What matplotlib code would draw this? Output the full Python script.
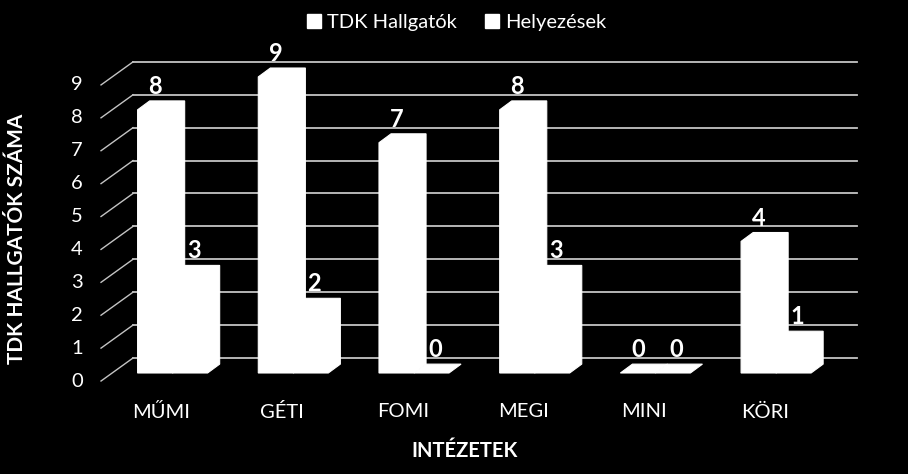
import matplotlib.pyplot as plt
from matplotlib.lines import Line2D

categories = ['MŰMI', 'GÉTI', 'FOMI', 'MEGI', 'MINI', 'KÖRI']
tdk_hallgatok = [8, 9, 7, 8, 0, 4]
helyezesek = [3, 2, 0, 3, 0, 1]
y_ticks = list(range(0, 10))

plt.rcParams['font.family'] = ['Lato', 'DejaVu Sans']

fig = plt.figure(figsize=(9.08, 4.74), dpi=100)
fig.patch.set_facecolor('black')
ax = fig.add_axes([0, 0, 1, 1])
ax.set_facecolor('black')
ax.set_xlim(-1.102, 6.421)
ax.set_ylim(-3.526, 10.881)
ax.axis('off')

# 3D-ish offsets (data units)
floor_dx, floor_dy = -0.265, -0.70     # back wall -> front floor edge
front_dx, front_dy = -0.172, -0.456    # back wall -> bar front plane
depth_dx, depth_dy = 0.10, 0.27        # bar front -> bar back
bar_w = 0.29
grid_col = '#c4c4c4'

# back wall gridlines + slanted floor ticks
for v in y_ticks:
    ax.plot([0, len(categories)], [v, v], color=grid_col, lw=1.3, zorder=1)
    ax.plot([0, floor_dx], [v, v + floor_dy], color=grid_col, lw=1.0, zorder=1)
    ax.text(floor_dx - 0.15, v + floor_dy, str(v), color='white', fontsize=14.5,
            ha='right', va='center')


def draw_bar(xl, h, shift):
    xr = xl + bar_w
    x0, y0 = xl + front_dx, front_dy
    xs = [x0, x0, x0 + depth_dx, xr + front_dx + depth_dx, xr + front_dx + depth_dx, xr + front_dx]
    ys = [y0, h + y0, h + y0 + depth_dy, h + y0 + depth_dy, y0 + depth_dy, y0]
    ax.fill(xs, ys, facecolor='white', edgecolor='white', lw=0.8, zorder=3)
    ax.text((xl + xr) / 2 + front_dx + shift, h + y0 + depth_dy + 0.09, str(h),
            color='white', fontsize=17, fontweight='bold', ha='center', va='bottom', zorder=4)


for i, cat in enumerate(categories):
    left = i + 0.5 - bar_w
    draw_bar(left, tdk_hallgatok[i], 0.0)
    draw_bar(left + bar_w, helyezesek[i], 0.03)
    ax.text(i + 0.5 + floor_dx, -1.64, cat, color='white', fontsize=14.5,
            ha='center', va='center')

ax.text(2.75, -2.83, 'INTÉZETEK', color='white', fontsize=14.5, fontweight='bold',
        ha='center', va='center')
ax.text(-0.961, 3.62, 'TDK HALLGATÓK SZÁMA', color='white', fontsize=15,
        fontweight='bold', rotation=90, ha='center', va='center')

handles = [Line2D([], [], marker='s', color='white', ls='none', markersize=9.5),
           Line2D([], [], marker='s', color='white', ls='none', markersize=9.5)]
leg = fig.legend(handles, ['TDK Hallgatók', 'Helyezések'], ncol=2, loc='center',
                 bbox_to_anchor=(0.503, 0.952), frameon=False, fontsize=14.5,
                 handletextpad=0.3, columnspacing=1.4, handlelength=0.7)
for t in leg.get_texts():
    t.set_color('white')

plt.savefig('out.png', dpi=100, facecolor='black')
